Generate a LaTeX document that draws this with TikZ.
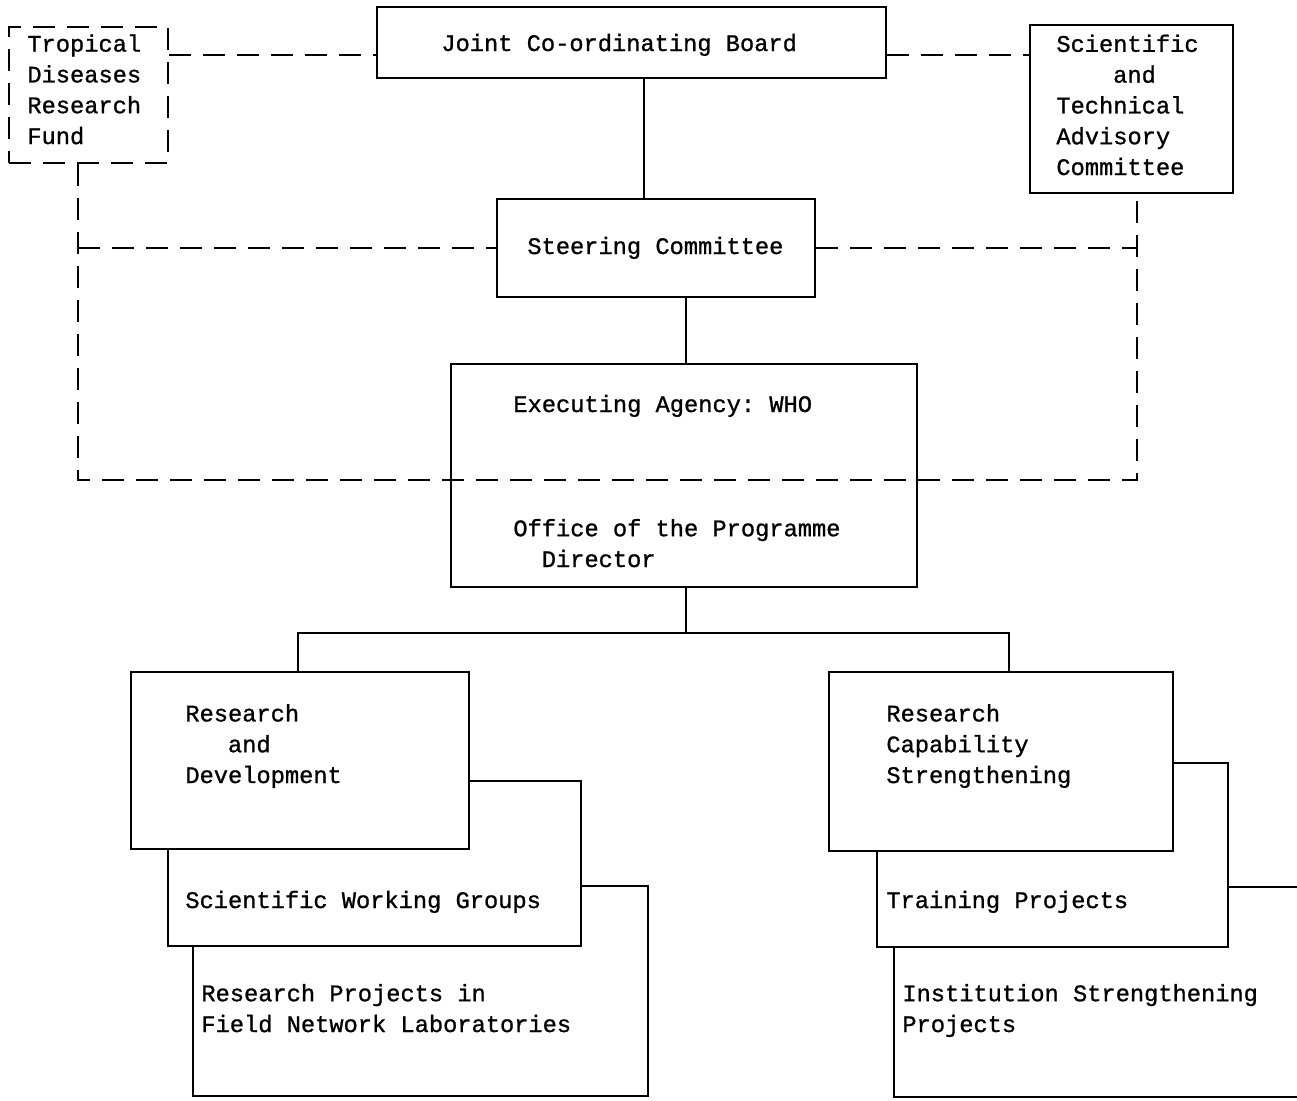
\documentclass[tikz,border=0pt]{standalone}
\usepackage{fontspec}
\newfontfamily\tw[FakeBold=1]{Liberation Mono}
\usetikzlibrary{fit}
\frenchspacing
\begin{document}
\begin{tikzpicture}[x=0.5pt,y=-0.5pt,
  box/.style={draw, line width=1.1pt, inner sep=0pt, fill=white},
  dbox/.style={draw, line width=1.1pt, inner sep=0pt, dash pattern=on 11pt off 6pt},
  conn/.style={line width=1.1pt},
  dconn/.style={line width=1.1pt, dash pattern=on 11pt off 6pt},
  txt/.style={font=\tw\fontsize{11.85}{15.4}\selectfont\frenchspacing, inner sep=0pt, anchor=base west, align=left}]
\useasboundingbox (0,0) rectangle (1297,1100);
\fill[white] (0,0) rectangle (1297,1100);
\clip (0,0) rectangle (1297,1100);

% helper coordinates
\coordinate (ya) at (0,55);
\coordinate (lx) at (78,480);
\coordinate (rx) at (1137,480);
\coordinate (c1) at (644,0);
\coordinate (c2) at (686,0);
\coordinate (bl) at (298,633);
\coordinate (br) at (1009,633);

% top boxes
\node[dbox, fit={(9,27) (168,163)}] (tdrf) {};
\node[box, fit={(377,7) (886,78)}] (jcb) {};
\node[box, fit={(1030,25) (1233,193)}] (stac) {};
\node[box, fit={(497,199) (815,297)}] (steer) {};
\node[box, fit={(451,364) (917,587)}] (who) {};

% left stack
\node[box, fit={(193,886) (648,1096)}] (rpf) {};
\node[box, fit={(168,781) (581,946)}] (swg) {};
\node[box, fit={(131,672) (469,849)}] (rd) {};
% right stack
\node[box, fit={(894,887) (1340,1097)}] (isp) {};
\node[box, fit={(877,763) (1228,947)}] (tp) {};
\node[box, fit={(829,672) (1173,851)}] (rcs) {};

% dashed connectors
\draw[dconn] (tdrf.east |- ya) -- (jcb.west |- ya);
\draw[dconn] (jcb.east |- ya) -- (stac.west |- ya);
\draw[dconn] (tdrf.south -| lx) -- (lx) -- (rx) -- (stac.south -| rx);
\draw[dconn] (lx |- steer.west) -- (steer.west);
\draw[dconn] (steer.east) -- (rx |- steer.east);

% solid connectors
\draw[conn] (jcb.south -| c1) -- (steer.north -| c1);
\draw[conn] (steer.south -| c2) -- (who.north -| c2);
\draw[conn] (who.south -| c2) -- (c2 |- bl);
\draw[conn] (rd.north -| bl) -- (bl) -- (br) -- (rcs.north -| br);

% texts (multi-line nodes anchored at the baseline of their last line)
\node[txt] (t1) at (27,144) {Tropical\\Diseases\\Research\\Fund};
\node[txt] (t2) at (441,51) {Joint Co-ordinating Board};
\node[txt] (t3) at (1056,175) {Scientific\\\hspace*{28.4pt}and\\Technical\\Advisory\\Committee};
\node[txt] (t4) at (527,254) {Steering Committee};
\node[txt] (t5) at (513,412) {Executing Agency: WHO};
\node[txt] (t6) at (513,567) {Office of the Programme\\\hspace*{14.2pt}Director};
\node[txt] (t7) at (185,783) {Research\\\hspace*{21.3pt}and\\Development};
\node[txt] (t8) at (185,908) {Scientific Working Groups};
\node[txt] (t9) at (201,1032) {Research Projects in\\Field Network Laboratories};
\node[txt] (t10) at (886,783) {Research\\Capability\\Strengthening};
\node[txt] (t11) at (886,908) {Training Projects};
\node[txt] (t12) at (902,1032) {Institution Strengthening\\Projects};
\end{tikzpicture}
\end{document}
